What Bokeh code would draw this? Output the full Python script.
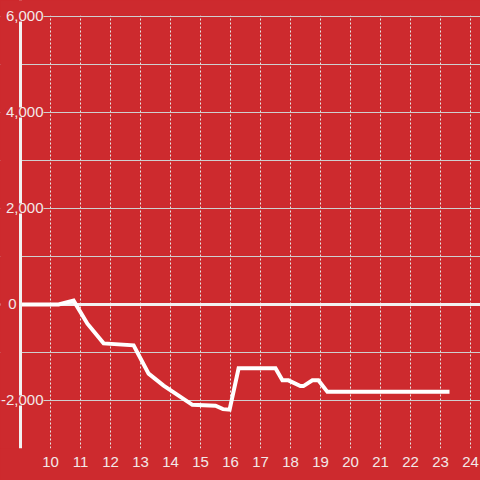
from bokeh.plotting import figure
from bokeh.models import Span, Label, FixedTicker, Range1d, BoxAnnotation, GlobalInlineStyleSheet
from bokeh.embed import file_html
from bokeh.resources import INLINE

# ---- data ----
hours = [9.0, 10.27, 10.77, 11.23, 11.77, 12.77, 13.27, 13.77, 14.27, 14.73,
         15.5, 15.75, 15.97, 16.27, 17.5, 17.73, 17.93, 18.33, 18.43, 18.73,
         18.93, 19.23, 23.3]
values = [0, 0, 80, -400, -810, -850, -1440, -1690, -1900, -2090,
          -2110, -2180, -2190, -1330, -1330, -1580, -1580, -1700, -1700, -1580,
          -1580, -1820, -1820]
x_ticks = list(range(10, 25))
y_grid = list(range(-3000, 6001, 1000))
y_label_values = [-2000, 0, 2000, 4000, 6000]
y_label_texts = ["-2,000", "0", "2,000", "4,000", "6,000"]

RED = "#cd2a2e"
TXT = "#f2e8e8"
FONT = "Liberation Sans"

AXIS_X = 9.0
Y_TOP = 6000
p = figure(width=480, height=480, x_range=Range1d(8.3333, 24.3333), y_range=Range1d(-3000, 6333.33),
           output_backend="svg", toolbar_location=None,
           min_border_left=0, min_border_right=0, min_border_top=0, min_border_bottom=32,
           background_fill_color=RED, border_fill_color=RED, outline_line_color=None)
p.stylesheets = [GlobalInlineStyleSheet(css="html,body{background:%s;}" % RED)]

p.yaxis.visible = False
p.ygrid.ticker = FixedTicker(ticks=y_grid)
p.ygrid.grid_line_color = "#cfcfcf"
p.ygrid.grid_line_width = 1

p.xaxis.ticker = FixedTicker(ticks=x_ticks)
p.xaxis.axis_line_color = None
p.xaxis.major_tick_line_color = None
p.xaxis.minor_tick_line_color = None
p.xaxis.major_label_standoff = 2
p.xaxis.major_label_text_color = TXT
p.xaxis.major_label_text_font = FONT
p.xaxis.major_label_text_font_size = "15px"
p.xgrid.ticker = FixedTicker(ticks=x_ticks)
p.xgrid.grid_line_color = "#e6e6e6"
p.xgrid.grid_line_dash = "2 2"
p.xgrid.grid_line_width = 1

zero = Span(location=0, dimension="width", line_color="#f2f2f2", line_width=3, level="underlay")
p.add_layout(zero)

p.line(hours, values, line_color="white", line_width=4, line_join="miter")

# blank strip left of the y axis line
p.add_layout(BoxAnnotation(right=AXIS_X, fill_color=RED, fill_alpha=1, line_color=None))

axis_line = Span(location=AXIS_X, dimension="height", line_color="#f2f2f2", line_width=3)
p.add_layout(axis_line)

# blank strip above the top gridline
p.add_layout(BoxAnnotation(bottom=Y_TOP + 15, fill_color=RED, fill_alpha=1, line_color=None))

for v, t in zip(y_label_values, y_label_texts):
    off = -4 if t == "0" else 23
    lab = Label(x=AXIS_X, y=v, x_offset=off, text=t, text_align="right", text_baseline="middle",
                text_color=TXT, text_font=FONT, text_font_size="15px",
                background_fill_color=RED, level="overlay")
    p.add_layout(lab)

open("out.html", "w").write(file_html(p, INLINE))
